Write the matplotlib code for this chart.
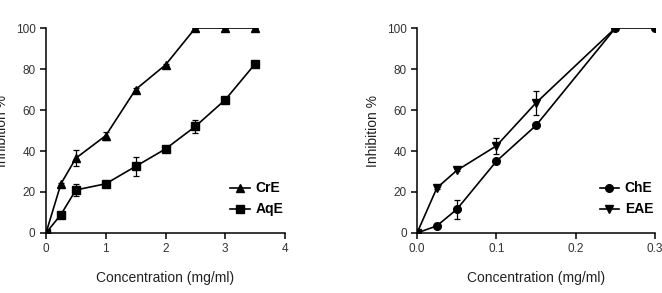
import matplotlib.pyplot as plt

plt.rcParams['font.family'] = ['Liberation Sans', 'DejaVu Sans']

# left panel
conc_a = [0, 0.25, 0.5, 1, 1.5, 2, 2.5, 3, 3.5]
cre = [0, 24, 36.5, 47.5, 70, 82, 100, 100, 100]
cre_err = [0, 0.5, 4, 2, 0.5, 0.5, 0, 0, 0]
aqe = [0, 9, 21, 24, 32.5, 41, 52, 65, 82.5]
aqe_err = [0, 0.5, 3, 0.5, 4.5, 0.5, 3, 0.5, 0.5]

# right panel
conc_b = [0, 0.025, 0.05, 0.1, 0.15, 0.25, 0.3]
che = [0, 3.5, 11.5, 35, 52.5, 100, 100]
che_err = [0, 0.5, 4.5, 0.5, 0.5, 0, 0]
conc_c = [0, 0.025, 0.05, 0.1, 0.15, 0.25]
eae = [0, 22, 30.5, 42.5, 63.5, 100]
eae_err = [0, 0.5, 0.5, 4, 6, 0]

fig = plt.figure(figsize=(6.62, 2.93), dpi=100)
ax1 = fig.add_axes([0.0695, 0.2048, 0.361, 0.6996])
ax2 = fig.add_axes([0.630, 0.2048, 0.3595, 0.6996])


def series(ax, x, y, err, marker, name):
    ax.errorbar(x, y, yerr=err, fmt='none', ecolor='black', elinewidth=0.9,
                capsize=2.5, capthick=0.9)
    ax.plot(x, y, color='black', lw=1.2, marker=marker, ms=5.5, label=name)


series(ax1, conc_a, cre, cre_err, '^', 'CrE')
series(ax1, conc_a, aqe, aqe_err, 's', 'AqE')
series(ax2, conc_b, che, che_err, 'o', 'ChE')
series(ax2, conc_c, eae, eae_err, 'v', 'EAE')

ax1.set_xlim(0, 4)
ax1.set_xticks([0, 1, 2, 3, 4])
ax2.set_xlim(0, 0.3)
ax2.set_xticks([0.0, 0.1, 0.2, 0.3])
ax2.set_xticklabels(['0.0', '0.1', '0.2', '0.3'])

for ax in (ax1, ax2):
    ax.set_ylim(0, 100)
    ax.set_yticks([0, 20, 40, 60, 80, 100])
    ax.spines['top'].set_visible(False)
    ax.spines['right'].set_visible(False)
    ax.spines['left'].set_linewidth(1.1)
    ax.spines['bottom'].set_linewidth(1.1)
    ax.tick_params(direction='out', length=4, width=1.1, labelsize=8.5, labelcolor='#333333')
    ax.set_xlabel('Concentration (mg/ml)', fontsize=10, color='#222222', labelpad=11)
    ax.set_ylabel('Inhibition %', fontsize=10, color='#222222', labelpad=5)
    for s in ax.get_xticklabels() + ax.get_yticklabels():
        s.set_clip_on(False)
    ax.legend(loc='lower right', bbox_to_anchor=(1.045, 0.02), frameon=False,
              prop={'weight': 'bold', 'size': 10}, handlelength=1.4,
              handletextpad=0.4, labelspacing=0.5)

fig.savefig('out.png', dpi=100)
